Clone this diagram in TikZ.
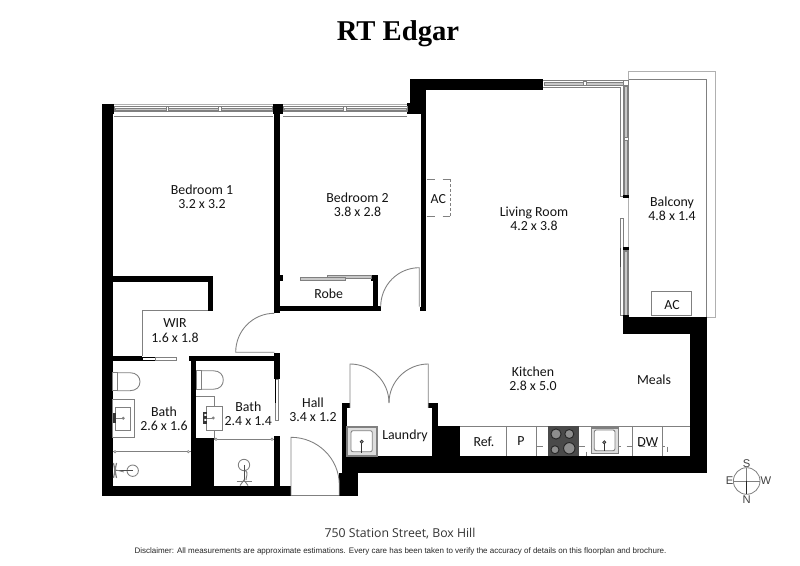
\documentclass[tikz,border=0pt]{standalone}
\usepackage{fontspec}
\newfontfamily\carlitof{Carlito}
\newfontfamily\titlef{Liberation Serif Bold}
\newfontfamily\footf{Open Sans}
\newfontfamily\arialf{Liberation Sans}
\definecolor{ln}{HTML}{808080}
\definecolor{lnlight}{HTML}{B0B0B0}
\definecolor{win}{HTML}{C8C8C8}
\definecolor{hob}{HTML}{4A4A4A}
\definecolor{burn}{HTML}{8E8E8E}
\tikzset{
  x=0.75pt,y=-0.75pt,
  lab/.style={font=\carlitof\fontsize{10.4}{10.7}\selectfont,align=center,inner sep=0pt,text=black!92},
  thin line/.style={draw=ln,line width=0.65pt},
  pale line/.style={draw=lnlight,line width=0.6pt},
  dashline/.style={draw=ln,line width=0.7pt,dash pattern=on 5pt off 4pt},
  glass/.style={draw=ln,fill=win,line width=0.4pt},
  wht/.style={draw=ln,fill=white,line width=0.45pt},
  screenpin/.style={draw=ln,fill=white,line width=0.4pt},
  compassl/.style={font=\arialf\fontsize{8.4}{8.4}\selectfont,inner sep=0pt,text=black!75},
}
\begin{document}
\begin{tikzpicture}
\useasboundingbox (0,0) rectangle (800,566);
\fill[white] (0,0) rectangle (800,566);

% ---- walls ----
\fill[black] (102,103.7) rectangle (114,114);
\fill[black] (102,103.7) rectangle (112.5,496);
\fill[black] (102,486) rectangle (291,496);
\fill[black] (112,276) rectangle (212.7,281.7);
\fill[black] (207.7,276) rectangle (212.7,310.7);
\fill[black] (272.7,103.7) rectangle (283.3,114);
\fill[black] (274.3,103.7) rectangle (279.8,313.3);
\fill[black] (279,275) rectangle (283.3,281);
\fill[black] (274.3,306) rectangle (380.7,311.2);
\fill[black] (372.7,275) rectangle (378,307);
\fill[black] (371,275) rectangle (378,281);
\fill[black] (406.8,103.3) rectangle (426,114);
\fill[black] (410,79.3) rectangle (426,114);
\fill[black] (410,79.3) rectangle (542.7,90);
\fill[black] (421,100) rectangle (426.2,311.5);
\fill[black] (419.5,306.7) rectangle (426.2,311.5);
\fill[black] (112,355.7) rectangle (142.3,361);
\fill[black] (189.3,355.7) rectangle (279.7,361.3);
\fill[black] (190.7,356) rectangle (196,486);
\fill[black] (196,438.3) rectangle (214.3,486);
\fill[black] (274.3,352.7) rectangle (279.7,379.3);
\fill[black] (274.3,436) rectangle (279.7,486);
\fill[black] (339.3,473) rectangle (358,496);
\fill[black] (341.7,402.7) rectangle (346.7,473);
\fill[black] (341.7,402.7) rectangle (350,408.3);
\fill[black] (428.3,402.7) rectangle (437.7,408.3);
\fill[black] (432.3,402.7) rectangle (437.7,430);
\fill[black] (432.3,426) rectangle (460,456);
\fill[black] (341.7,456) rectangle (706.7,473.3);
\fill[black] (690,317.3) rectangle (706.7,473.3);
\fill[black] (622.7,317.3) rectangle (706.7,334);

% ---- balcony ----
\draw[pale line] (628.7,71) -- (715.7,71) -- (715.7,317.3) -- (706.7,317.3);
\draw[pale line] (628.7,71) -- (628.7,317.3);
\draw[thin line] (628.7,79.3) -- (706.7,79.3) -- (706.7,317.3);
\draw[thin line,fill=white] (651.3,291.7) rectangle (691.7,315.7);

% ---- windows: bedrooms ----
\draw[pale line] (114,104) -- (272.7,104);
\draw[thin line] (114.3,116.7) -- (272.7,116.7);
\draw[wht] (114.3,106.7) rectangle (272.7,111.7);
\draw[glass] (115,107.8) rectangle (272,110.6);
\draw[wht] (166,106.7) rectangle (168.7,111.7);
\draw[wht] (218.7,106.7) rectangle (221.3,111.7);
\draw[pale line] (283.3,104) -- (406.8,104);
\draw[thin line] (283.3,116.7) -- (406.8,116.7);
\draw[wht] (283.3,106.7) rectangle (406.8,111.7);
\draw[glass] (284,107.8) rectangle (406,110.6);
\draw[wht] (343.5,106.7) rectangle (346.5,111.7);

% ---- windows: living room ----
\draw[thin line] (543,80) -- (628.7,80);
\draw[thin line] (543,87.3) -- (620.7,87.3) -- (620.7,196.7) -- (623.3,196.7);
\draw[glass] (544,82) rectangle (623.3,85.3);
\draw[wht] (583.4,81.5) rectangle (586.6,85.8);
\draw[wht] (623.3,80) rectangle (628.7,85.3);
\draw[wht] (623.3,85.3) rectangle (628.7,196);
\draw[glass] (624.2,86) rectangle (627.4,195);
\draw[wht] (624,137.7) rectangle (628,140.7);
\fill[black] (623.3,195) rectangle (628.7,198.3);
\draw[wht] (620.3,218.3) rectangle (623.3,315.7);
\draw[wht] (623.3,250) rectangle (628.7,315.7);
\draw[glass] (624.2,251) rectangle (627.4,315);
\fill[black] (623.3,247.5) rectangle (628.7,250);
\draw[black!70,line width=0.5pt] (620.3,248) -- (620.3,266.7);
\fill[black] (623,315.5) rectangle (628.7,318);

% ---- AC dashed alcove ----
\draw[thin line] (426.5,179.3) -- (435,179.3);
\draw[thin line] (426.5,216) -- (435,216);
\draw[thin line] (442.7,179.3) -- (450,179.3);
\draw[thin line] (442.7,216) -- (450,216);
\draw[draw=ln,line width=0.6pt,dash pattern=on 2pt off 1.6pt] (450,179.3) -- (450,216);

% ---- robe ----
\draw[glass] (327.3,275.3) rectangle (371.7,278.3);
\draw[glass] (300.7,277.7) rectangle (345,280.3);

% ---- WIR ----
\draw[thin line] (207.7,310) -- (142.3,310) -- (142.3,356);
\draw[draw=black,fill=white,line width=0.5pt] (142.3,357.3) rectangle (155.7,360.3);
\draw[wht] (155.7,357.3) rectangle (176.7,360.3);

% ---- doors ----
\draw[thin line] (274.3,352.2) -- (235.7,352.2) .. controls (235.7,330.6) and (253,313.3) .. (274.3,313.3);
\draw[thin line] (380.7,306.7) .. controls (380.7,285) and (398,267.7) .. (419.3,267.7) -- (419.3,306.7);
\draw[thin line] (291,495.6) -- (291,437.3) .. controls (317.5,437.3) and (339.3,458.5) .. (339.3,485) -- (339.3,495.6);
\draw[thin line] (291,495.6) -- (339.3,495.6);
\draw[thin line] (350,408) -- (350,364) .. controls (371.5,364) and (389,381.5) .. (389,403);
\draw[thin line] (428.3,408) -- (428.3,364) .. controls (406.6,364) and (389,381.5) .. (389,403);
\draw[wht] (275.5,379.3) rectangle (278.3,420);
\draw[black,line width=0.5pt] (275.5,379.3) -- (275.5,403);

% ---- bath 1 ----
\draw[thin line] (112.5,372.7) rectangle (117.3,390.7);
\draw[thin line] (117.3,372.7) -- (130,372.7) .. controls (136.5,372.7) and (140,377) .. (140,381.7) .. controls (140,386.5) and (136.5,390.7) .. (130,390.7) -- (117.3,390.7);
\draw[thin line] (112.5,399.3) rectangle (134.3,437.7);
\draw[thin line] (115.7,407.3) rectangle (130.7,430.7);
\fill[black!80] (113,413) rectangle (115.7,423);
\draw[thin line] (115.7,418.3) -- (122.5,418.3);
\draw[thin line] (123.3,418.3) circle[radius=1];
\draw[thin line] (112.5,451.7) -- (190.7,451.7);
\draw[screenpin] (115,451.7) circle[radius=1.2];
\draw[screenpin] (188.3,451.7) circle[radius=1.2];
\draw[thin line] (132.7,470.7) circle[radius=5.7];
\draw[black!70,line width=0.5pt] (114,470.7) -- (132.7,470.7);
\draw[ln,line width=0.9pt] (113.5,463) -- (116.5,478);
\draw[ln,line width=0.9pt] (116.5,463) -- (113.5,478);
\draw[ln,line width=0.6pt] (116,470) -- (124,472);

% ---- bath 2 ----
\draw[thin line] (196,370.7) rectangle (201,389.3);
\draw[thin line] (201,370.7) -- (213,370.7) .. controls (220,370.7) and (223.3,375) .. (223.3,380) .. controls (223.3,385) and (220,389.3) .. (213,389.3) -- (201,389.3);
\draw[thin line] (196,396) -- (214.3,396) -- (214.3,439.3);
\draw[thin line,fill=white] (206.7,406) rectangle (222,430);
\fill[black!80] (203.3,411.7) rectangle (207.3,424);
\fill[white] (204.3,414) rectangle (206.3,416) (204.3,419) rectangle (206.3,421);
\draw[thin line] (207.3,418) -- (212.3,418);
\draw[thin line] (213.3,418) circle[radius=1];
\draw[thin line] (214.3,439.3) -- (274.3,439.3);
\draw[screenpin] (216,439.3) circle[radius=1.2];
\draw[screenpin] (272,439.3) circle[radius=1.2];
\draw[thin line] (244,465) circle[radius=5.7];
\draw[black!70,line width=0.5pt] (244,465) -- (244,480);
\draw[ln,line width=0.9pt] (236.7,481.2) -- (252.3,481.2);
\draw[ln,line width=0.7pt] (240,485.5) -- (244,480) -- (248,485.5);
\draw[ln,line width=0.7pt] (245,470) .. controls (249,473) and (246,476) .. (246,480);

% ---- laundry trough ----
\draw[thin line,draw=ln,fill=white] (346.9,426) rectangle (377.3,456);
\draw[glass,fill=win!60] (347.5,427.3) rectangle (376.7,455);
\draw[thin line,fill=white,rounded corners=1.5pt] (351,430.7) rectangle (372.3,451.7);
\draw[black!80,line width=0.6pt] (361.7,441.7) -- (361.7,453);
\draw[black!80,fill=burn,line width=0.5pt] (361.7,441.7) circle[radius=1.6];

% ---- kitchen bench ----
\draw[thin line] (460,426) -- (690,426);
\draw[thin line] (506.3,426) -- (506.3,456);
\draw[thin line] (536.7,426) -- (536.7,456);
\draw[thin line] (632.3,426) -- (632.3,456);
\draw[thin line] (662.3,426) -- (662.3,456);
\draw[dashline] (536.7,446.7) -- (548,446.7);
\draw[dashline] (578.7,446.7) -- (665,446.7);
\draw[thin line] (586,451.7) -- (586,456);
\draw[thin line] (667.3,446.7) -- (667.3,451.7);
\fill[hob] (548.3,426) rectangle (578.7,456);
\foreach \cx/\cy/\rr in {556/434/6,569.3/434/5.3,555/449.7/4.7,569.3/448.3/6.7}{
  \draw[draw=black!85,fill=burn,line width=0.7pt] (\cx,\cy) circle[radius=\rr*0.85];
}
\draw[thin line,fill=white] (591,427.7) rectangle (618.3,453.3);
\draw[glass,fill=win!60] (591.5,428.3) rectangle (617.8,452.8);
\draw[thin line,fill=white,rounded corners=1.5pt] (594.3,430) rectangle (615,450.7);
\draw[black!80,line width=0.6pt] (604.3,442.3) -- (604.3,451.5);
\draw[black!80,fill=burn,line width=0.5pt] (604.3,442.3) circle[radius=1.6];

% ---- labels ----
\node[lab] (bed1) at (202,197) {Bedroom 1\\3.2 x 3.2};
\node[lab] (bed2) at (357.5,205) {Bedroom 2\\3.8 x 2.8};
\node[lab] (robe) at (328.7,293.7) {Robe};
\node[lab] (acin) at (438.3,199) {AC};
\node[lab] (living) at (534,219) {Living Room\\4.2 x 3.8};
\node[lab] (balc) at (672,209) {Balcony\\4.8 x 1.4};
\node[lab] (acout) at (672,305) {AC};
\node[lab] (wir) at (175,330.5) {WIR\\1.6 x 1.8};
\node[lab] (bath1) at (164,418.5) {Bath\\2.6 x 1.6};
\node[lab] (bath2) at (248.3,413.5) {Bath\\2.4 x 1.4};
\node[lab] (hall) at (313,410) {Hall\\3.4 x 1.2};
\node[lab] (laundry) at (405,436) {Laundry};
\node[lab] (kitchen) at (533,378.5) {Kitchen\\2.8 x 5.0};
\node[lab] (meals) at (654,380) {Meals};
\node[lab] (ref) at (484,441.7) {Ref.};
\node[lab] (pantry) at (521,440.7) {P};
\node[lab] (dw) at (647.7,441.7) {DW};

% ---- compass ----
\draw[draw=ln,line width=0.6pt] (746.7,481) circle[radius=13.3];
\draw[draw=ln,line width=0.6pt] (733.4,481) -- (760,481);
\draw[draw=ln,line width=0.6pt] (746.7,467.7) -- (746.7,481);
\draw[draw=black!85,line width=1.1pt] (746.7,481) -- (746.7,494.3);
\node[compassl] (cs) at (746.7,463.3) {S};
\node[compassl] (cn) at (746.7,499.3) {N};
\node[compassl] (ce) at (729.5,481) {E};
\node[compassl] (cw) at (766,481) {W};

% ---- title & footer ----
\node[font=\titlef\fontsize{21.5}{24}\selectfont,inner sep=0pt,text=black] (title) at (398,33.5) {RT Edgar};
\node[font=\footf\fontsize{9.2}{10}\selectfont,inner sep=0pt,text=black!80] (addr) at (400,534) {750 Station Street, Box Hill};
\node[font=\arialf\fontsize{6}{7}\selectfont,inner sep=0pt,text=black!85] (disc) at (400.5,551) {Disclaimer: All measurements are approximate estimations. Every care has been taken to verify the accuracy of details on this floorplan and brochure.};
\end{tikzpicture}
\end{document}
